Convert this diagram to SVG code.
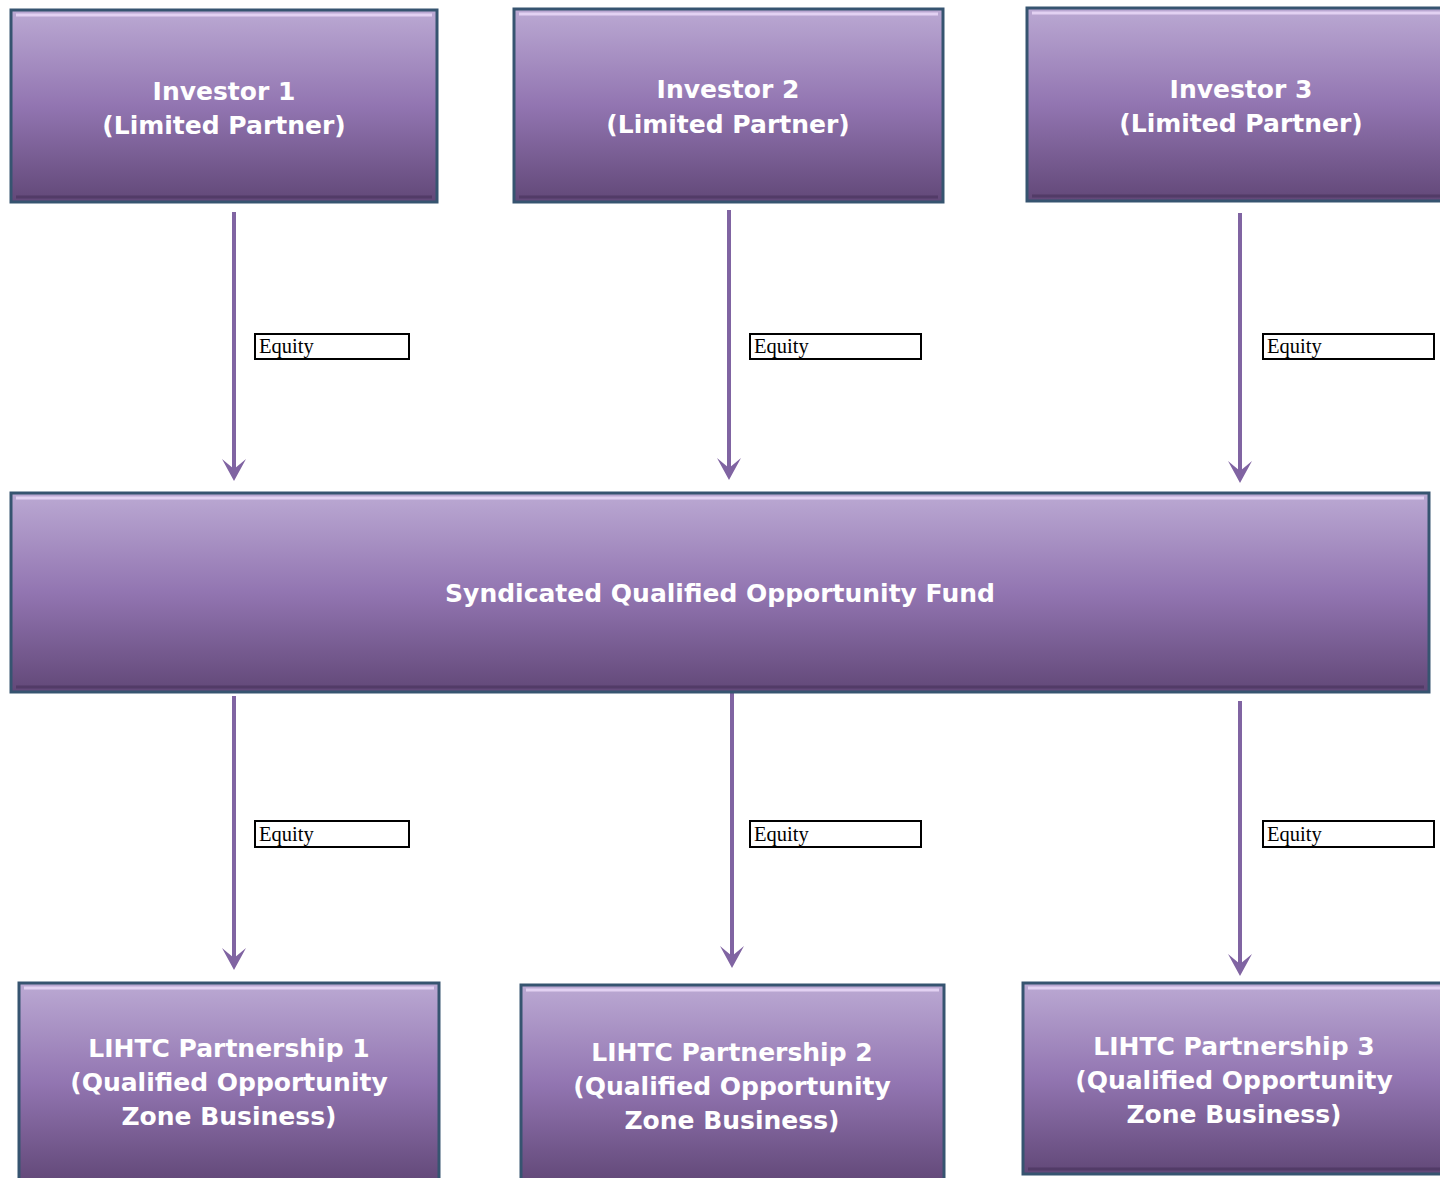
<svg xmlns="http://www.w3.org/2000/svg" width="1440" height="1178" viewBox="0 0 1440 1178">
<defs>
<linearGradient id="g" x1="0" y1="0" x2="0" y2="1">
<stop offset="0" stop-color="#bba9d3"/>
<stop offset="0.5" stop-color="#9275b1"/>
<stop offset="1" stop-color="#624878"/>
</linearGradient>
<marker id="ah" markerUnits="userSpaceOnUse" markerWidth="28" markerHeight="28" viewBox="-14 -14 28 28" refX="0" refY="0" orient="auto">
<path d="M-12,-12 L10,0 L-12,12 L-2,0 Z" fill="#8064a2"/>
</marker>
<style>
.box{fill:url(#g);stroke:#365470;stroke-width:3}
.hi{fill:none;stroke:#ecdcfa;stroke-width:3;stroke-opacity:0.8}
.lo{fill:none;stroke:#4a3560;stroke-width:3;stroke-opacity:0.7}
.t{font-family:"DejaVu Sans",Verdana,sans-serif;font-weight:bold;font-size:25px;fill:#ffffff;text-anchor:middle}
.c{stroke:#8064a2;stroke-width:4;fill:none;marker-end:url(#ah)}
.lb{fill:#ffffff;stroke:#000000;stroke-width:2}
.lt{font-family:"Liberation Serif","Times New Roman",serif;font-size:20.5px;fill:#000000}
</style>
</defs>
<rect width="1440" height="1178" fill="#ffffff"/>
<g id="connectors">
<line class="c" x1="234" y1="212" x2="234" y2="471"/>
<line class="c" x1="729" y1="210" x2="729" y2="470"/>
<line class="c" x1="1240" y1="213" x2="1240" y2="473"/>
<line class="c" x1="234" y1="696" x2="234" y2="960"/>
<line class="c" x1="732" y1="693" x2="732" y2="958"/>
<line class="c" x1="1240" y1="701" x2="1240" y2="966"/>
<g id="labels">
<rect class="lb" x="255" y="334" width="154" height="25"/><text class="lt" x="259" y="353">Equity</text>
<rect class="lb" x="750" y="334" width="171" height="25"/><text class="lt" x="754" y="353">Equity</text>
<rect class="lb" x="1263" y="334" width="171" height="25"/><text class="lt" x="1267" y="353">Equity</text>
<rect class="lb" x="255" y="821" width="154" height="26"/><text class="lt" x="259" y="841">Equity</text>
<rect class="lb" x="750" y="821" width="171" height="26"/><text class="lt" x="754" y="841">Equity</text>
<rect class="lb" x="1263" y="821" width="171" height="26"/><text class="lt" x="1267" y="841">Equity</text>
</g>
</g>
<g id="investor1">
<rect class="box" x="11" y="10" width="426" height="192"/>
<path class="hi" d="M16,15 H432"/><path class="lo" d="M16,197 H432"/>
<text class="t" x="224" y="100">Investor 1</text>
<text class="t" x="224" y="134">(Limited Partner)</text>
</g>
<g id="investor2">
<rect class="box" x="514" y="9" width="429" height="193"/>
<path class="hi" d="M519,14 H938"/><path class="lo" d="M519,197 H938"/>
<text class="t" x="728" y="98">Investor 2</text>
<text class="t" x="728" y="133">(Limited Partner)</text>
</g>
<g id="investor3">
<rect class="box" x="1027" y="8" width="420" height="193"/>
<path class="hi" d="M1032,13 H1440"/><path class="lo" d="M1032,196 H1440"/>
<text class="t" x="1241" y="98">Investor 3</text>
<text class="t" x="1241" y="132">(Limited Partner)</text>
</g>
<g id="fund">
<rect class="box" x="11" y="493" width="1418" height="199"/>
<path class="hi" d="M16,498 H1424"/><path class="lo" d="M16,687 H1424"/>
<text class="t" x="720" y="602">Syndicated Qualified Opportunity Fund</text>
</g>
<g id="lihtc1">
<rect class="box" x="19" y="983" width="420" height="200"/>
<path class="hi" d="M24,988 H434"/>
<text class="t" x="229" y="1057">LIHTC Partnership 1</text>
<text class="t" x="229" y="1091">(Qualified Opportunity</text>
<text class="t" x="229" y="1125">Zone Business)</text>
</g>
<g id="lihtc2">
<rect class="box" x="521" y="985" width="423" height="198"/>
<path class="hi" d="M526,990 H939"/>
<text class="t" x="732" y="1061">LIHTC Partnership 2</text>
<text class="t" x="732" y="1095">(Qualified Opportunity</text>
<text class="t" x="732" y="1129">Zone Business)</text>
</g>
<g id="lihtc3">
<rect class="box" x="1023" y="983" width="424" height="191"/>
<path class="hi" d="M1028,988 H1440"/><path class="lo" d="M1028,1169 H1440"/>
<text class="t" x="1234" y="1055">LIHTC Partnership 3</text>
<text class="t" x="1234" y="1089">(Qualified Opportunity</text>
<text class="t" x="1234" y="1123">Zone Business)</text>
</g>
</svg>
